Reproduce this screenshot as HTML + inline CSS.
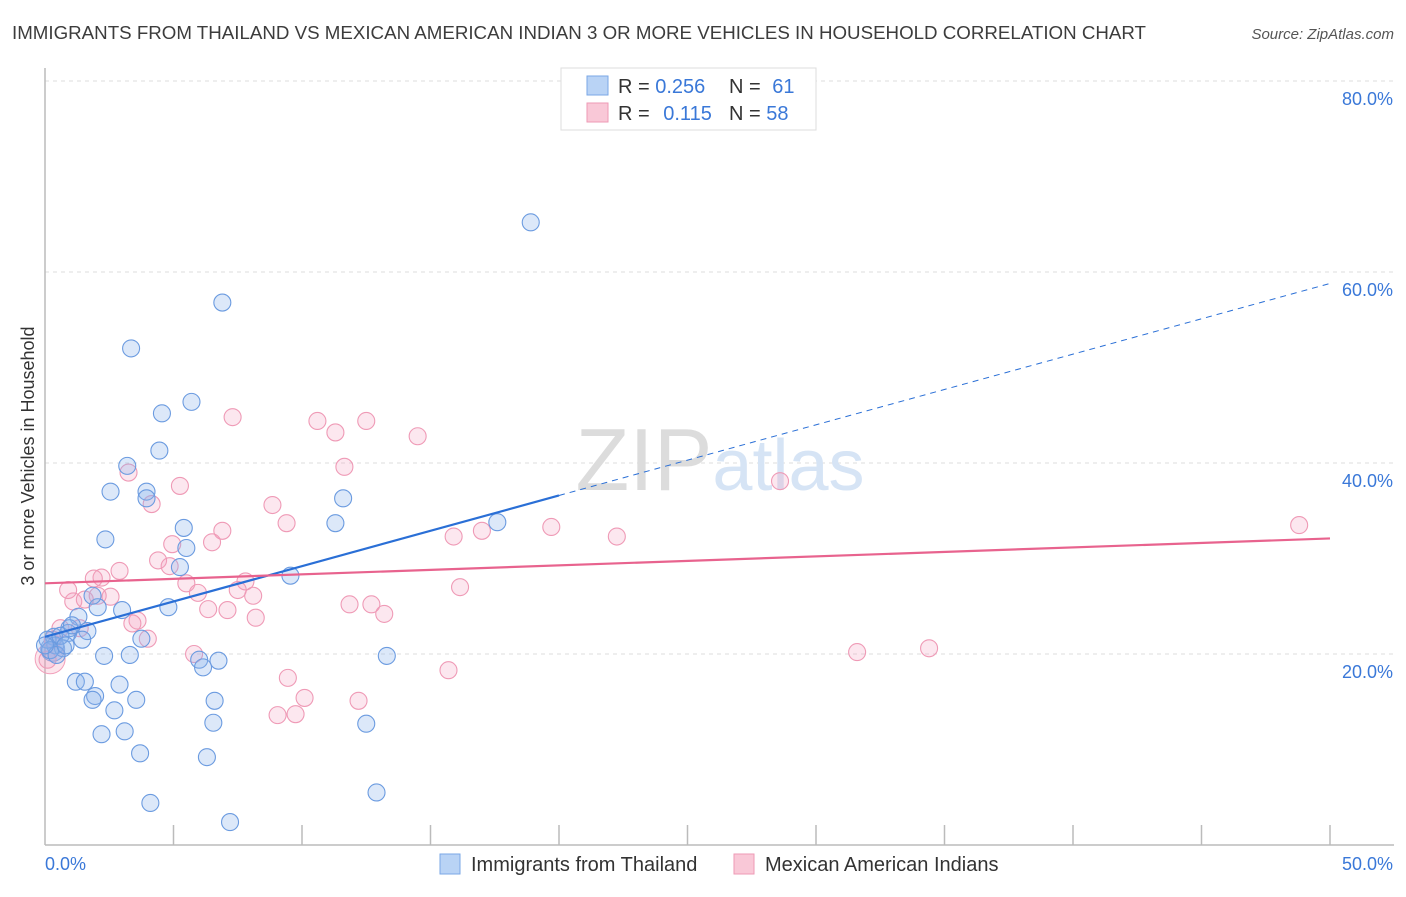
<!DOCTYPE html>
<html><head><meta charset="utf-8"><style>
body{margin:0;background:#fff;font-family:"Liberation Sans",sans-serif;}
svg text{font-family:"Liberation Sans",sans-serif;}
</style></head><body>
<svg width="1406" height="892" viewBox="0 0 1406 892" xmlns="http://www.w3.org/2000/svg">
<text x="12" y="39" font-size="18" fill="#3c3c3c" textLength="1134" lengthAdjust="spacingAndGlyphs">IMMIGRANTS FROM THAILAND VS MEXICAN AMERICAN INDIAN 3 OR MORE VEHICLES IN HOUSEHOLD CORRELATION CHART</text>
<text x="1394" y="39" font-size="15" fill="#555" font-style="italic" text-anchor="end">Source: ZipAtlas.com</text>
<g id="grid"></g>
<text x="720" y="490" font-size="88" fill="#e4e4e4" text-anchor="middle" font-family="Liberation Serif"><tspan fill="#dcdcdc">ZIP</tspan><tspan fill="#d6e4f5" font-family="Liberation Sans" font-size="72">atlas</tspan></text>
<g id="pts"></g>
<g id="trends"></g>
<text transform="translate(34,456) rotate(-90)" font-size="18" fill="#333" text-anchor="middle">3 or more Vehicles in Household</text>
<g>
<rect x="561" y="68" width="255" height="62" fill="#fff" stroke="#ddd"/>
<rect x="587" y="76" width="21" height="19" fill="#b9d3f5" stroke="#7aa7e6"/>
<rect x="587" y="103" width="21" height="19" fill="#f9c8d7" stroke="#ee9ab5"/>
<text x="618" y="93" font-size="20" fill="#333">R = <tspan fill="#3a78d8">0.256</tspan></text>
<text x="729" y="93" font-size="20" fill="#333">N = <tspan fill="#3a78d8" dx="6">61</tspan></text>
<text x="618" y="120" font-size="20" fill="#333">R = <tspan fill="#3a78d8" dx="8">0.115</tspan></text>
<text x="729" y="120" font-size="20" fill="#333">N = <tspan fill="#3a78d8">58</tspan></text>
</g>
<g>
<rect x="440" y="854" width="20" height="20" fill="#b9d3f5" stroke="#7aa7e6"/>
<text x="471" y="871" font-size="20" fill="#333">Immigrants from Thailand</text>
<rect x="734" y="854" width="20" height="20" fill="#f9c8d7" stroke="#ee9ab5"/>
<text x="765" y="871" font-size="20" fill="#333">Mexican American Indians</text>
</g>
</svg>
<script>
const blueX=[18.9,6.9,3.35,5.7,4.55,4.45,3.2,2.55,3.95,3.95,11.6,11.3,5.4,2.35,5.5,5.25,9.55,4.8,2.05,3.0,1.85,1.3,0.95,1.65,0.9,1.45,3.75,0.35,0.4,0.7,2.3,3.3,13.3,6.0,6.75,6.15,1.2,1.55,2.9,1.95,1.85,3.55,6.6,2.7,6.55,12.5,2.2,3.1,3.7,6.3,4.1,12.9,7.2,17.6,0.1,0.6,0.2,0.45,0.8,0.0,1.05];
const blueY=[65.2,56.8,52.0,46.4,45.2,41.3,39.7,37.0,37.0,36.3,36.3,33.7,33.2,32.0,31.1,29.1,28.2,24.9,24.9,24.6,26.1,23.9,22.7,22.4,22.2,21.5,21.6,21.8,20.9,20.6,19.8,19.9,19.8,19.4,19.3,18.6,17.1,17.1,16.8,15.6,15.2,15.2,15.1,14.1,12.8,12.7,11.6,11.9,9.6,9.2,4.4,5.5,2.4,33.8,21.5,21.9,20.4,19.9,20.9,20.9,23.0];
const pinkX=[48.8,28.6,22.25,19.7,17.0,15.9,16.15,14.5,12.5,11.3,10.6,11.65,7.3,8.85,9.4,5.25,4.15,3.25,6.9,6.5,4.4,4.95,4.85,5.5,5.95,7.8,8.1,7.5,7.1,6.35,8.2,11.85,12.7,13.2,2.2,1.9,2.9,2.55,1.1,1.55,3.6,3.4,4.0,0.9,5.8,9.45,10.1,9.05,9.75,12.2,15.7,31.6,34.4,0.6,1.35,0.1,0.3,2.05];
const pinkY=[33.5,38.1,32.3,33.3,32.9,32.3,27.0,42.8,44.4,43.2,44.4,39.6,44.8,35.6,33.7,37.6,35.7,39.0,32.9,31.7,29.8,31.5,29.2,27.4,26.4,27.6,26.1,26.7,24.6,24.7,23.8,25.2,25.2,24.2,28.0,27.9,28.7,26.0,25.5,25.7,23.5,23.2,21.6,26.7,20.0,17.5,15.4,13.6,13.7,15.1,18.3,20.2,20.6,22.7,22.7,19.4,21.5,26.1];
const yTicks=[20,40,60,80];
const yTickLabels=["20.0%","40.0%","60.0%","80.0%"];
const blueTrend=[21.8,0.74]; // intercept, slope
const pinkTrend=[27.4,0.094];
const NS='http://www.w3.org/2000/svg';
const X=v=>45+v*25.7, Y=v=>845-v*9.55;
function mk(t,a,p){const e=document.createElementNS(NS,t);for(const k in a)e.setAttribute(k,a[k]);p.appendChild(e);return e;}
const grid=document.getElementById('grid');
yTicks.forEach((t,i)=>{
 const l=mk('line',{x1:45,x2:1394,y1:Y(t),y2:Y(t),stroke:'#ddd','stroke-dasharray':'4,4'},grid);
 
 
 const tx=mk('text',{x:1393,y:Y(t)+24,'font-size':18,fill:'#3a78d8','text-anchor':'end'},grid);tx.textContent=yTickLabels[i];
 
 
});
const ax=mk('line',{x1:45,x2:45,y1:68,y2:845,stroke:'#bbb','stroke-width':1.5},grid);


const bx=mk('line',{x1:45,x2:1394,y1:845,y2:845,stroke:'#bbb','stroke-width':1.5},grid);


for(let i=1;i<=10;i++){const t=mk('line',{x1:X(i*5),x2:X(i*5),y1:825,y2:845,stroke:'#bbb','stroke-width':1.5},grid);
 
 }
const xl0=mk('text',{x:45,y:870,'font-size':18,fill:'#3a78d8'},grid);xl0.textContent='0.0%';


const xl1=mk('text',{x:1393,y:870,'font-size':18,fill:'#3a78d8','text-anchor':'end'},grid);xl1.textContent='50.0%';


const pts=document.getElementById('pts');
const bp=mk('circle',{cx:X(0.2),cy:Y(19.5),r:15,fill:'rgba(242,150,180,0.25)',stroke:'#f2a0bb'},pts);


const bb=mk('circle',{cx:X(0.3),cy:Y(20.5),r:12,fill:'rgba(120,140,220,0.3)',stroke:'#7aa0e0'},pts);


pinkX.forEach((v,i)=>{const c=mk('circle',{cx:X(v),cy:Y(pinkY[i]),r:8.5,fill:'rgba(245,160,190,0.25)',stroke:'#ef9ab6','stroke-width':1.1},pts);
 
 });
blueX.forEach((v,i)=>{const c=mk('circle',{cx:X(v),cy:Y(blueY[i]),r:8.5,fill:'rgba(140,180,235,0.3)',stroke:'#6b9be0','stroke-width':1.1},pts);
 
 });
const tr=document.getElementById('trends');
const bf=x=>blueTrend[0]+blueTrend[1]*x, pf=x=>pinkTrend[0]+pinkTrend[1]*x;
const l1=mk('line',{x1:X(0),y1:Y(bf(0)),x2:X(20),y2:Y(bf(20)),stroke:'#2a6fd6','stroke-width':2.2},tr);


const l2=mk('line',{x1:X(20),y1:Y(bf(20)),x2:X(50),y2:Y(bf(50)),stroke:'#2a6fd6','stroke-width':1,'stroke-dasharray':'6,5'},tr);


const l3=mk('line',{x1:X(0),y1:Y(pf(0)),x2:X(50),y2:Y(pf(50)),stroke:'#e8638e','stroke-width':2.2},tr);


</script>
</body></html>
